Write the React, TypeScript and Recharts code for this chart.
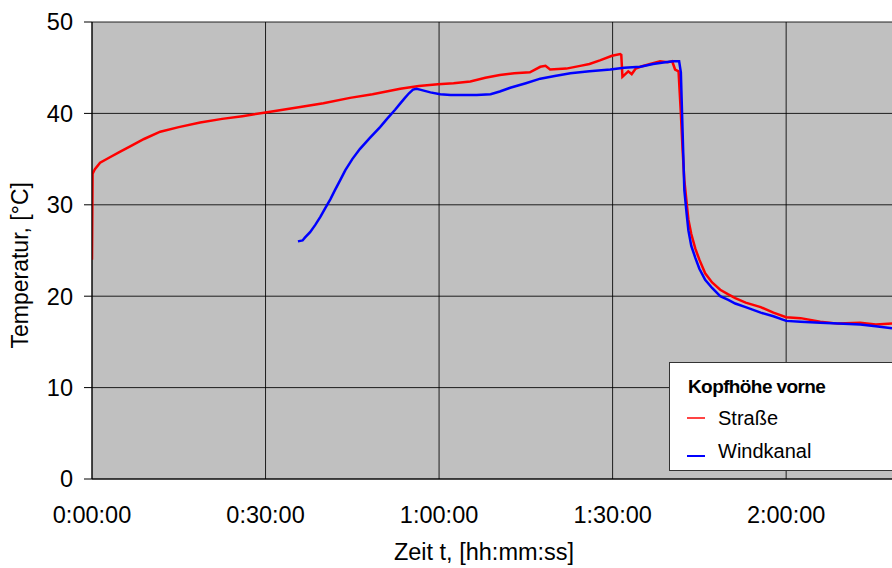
import { LineChart, Line, XAxis, YAxis, CartesianGrid } from 'recharts';

// time in minutes, temperature in °C
const strasseTime = [0, 0.1, 0.5, 1.4, 3.1, 4.8, 6.6, 9.0, 11.8, 15.0, 18.7, 22.5, 26.0, 30.0, 33.0, 36.0, 40.0, 44.6, 48.5, 53.3, 56.5, 59.8, 62.5, 65.4, 68.0, 70.5, 73.0, 75.7, 77.5, 78.4, 79.2, 82.0, 84.4, 86.0, 87.8, 89.9, 91.3, 91.5, 91.7, 92.2, 92.7, 93.3, 94.0, 94.8, 96.5, 98.2, 99.5, 100.3, 100.8, 101.4, 101.8, 102.1, 102.4, 102.8, 103.1, 103.6, 104.3, 105.0, 106.0, 107.2, 108.6, 110.0, 111.2, 113.0, 115.6, 117.8, 120.0, 122.5, 125.9, 129.0, 132.8, 135.5, 138.3];
const strasseTemp = [24.0, 33.4, 33.9, 34.6, 35.2, 35.8, 36.4, 37.2, 38.0, 38.5, 39.0, 39.4, 39.7, 40.1, 40.4, 40.7, 41.1, 41.7, 42.1, 42.7, 43.0, 43.2, 43.3, 43.5, 43.9, 44.2, 44.4, 44.5, 45.1, 45.2, 44.8, 44.9, 45.2, 45.4, 45.8, 46.3, 46.5, 46.4, 44.0, 44.3, 44.6, 44.3, 44.9, 45.1, 45.4, 45.7, 45.6, 45.7, 44.8, 44.6, 40.0, 36.0, 32.7, 30.2, 28.4, 26.8, 25.2, 24.0, 22.5, 21.5, 20.7, 20.2, 19.8, 19.3, 18.8, 18.2, 17.7, 17.6, 17.2, 17.0, 17.1, 16.9, 17.0];

const windkanalTime = [35.6, 36.4, 36.8, 37.7, 38.6, 39.5, 40.3, 41.2, 42.0, 43.0, 43.8, 45.0, 46.3, 48.0, 49.8, 51.0, 52.4, 53.3, 54.1, 54.8, 55.5, 56.1, 56.7, 58.5, 60.2, 62.0, 63.7, 66.5, 68.9, 70.5, 72.3, 75.0, 77.5, 80.0, 82.7, 86.0, 89.6, 92.0, 94.8, 97.0, 99.1, 100.5, 101.5, 101.8, 102.1, 102.4, 102.8, 103.1, 103.6, 104.3, 105.0, 106.0, 107.2, 108.6, 110.0, 111.2, 113.0, 115.6, 117.8, 120.0, 122.5, 125.9, 129.0, 132.8, 135.5, 138.3];
const windkanalTemp = [26.0, 26.1, 26.4, 27.0, 27.8, 28.7, 29.6, 30.6, 31.6, 32.8, 33.8, 35.0, 36.1, 37.3, 38.5, 39.4, 40.4, 41.1, 41.7, 42.2, 42.6, 42.7, 42.6, 42.3, 42.1, 42.0, 42.0, 42.0, 42.1, 42.4, 42.8, 43.3, 43.8, 44.1, 44.4, 44.6, 44.8, 45.0, 45.1, 45.4, 45.6, 45.7, 45.7, 44.5, 38.0, 31.6, 29.0, 27.2, 25.5, 24.2, 23.0, 21.8, 20.9, 20.0, 19.6, 19.2, 18.8, 18.2, 17.8, 17.3, 17.2, 17.1, 17.0, 16.9, 16.7, 16.5];

const xTicks = [0, 30, 60, 90, 120];
const yTicks = [0, 10, 20, 30, 40, 50];

const strasse = strasseTime.map((t, i) => ({ t, v: strasseTemp[i] }));
const windkanal = windkanalTime.map((t, i) => ({ t, v: windkanalTemp[i] }));

const fmtTime = (m: number) => {
  const h = Math.floor(m / 60);
  const mm = Math.round(m % 60);
  return `${h}:${String(mm).padStart(2, '0')}:00`;
};

const font = 'Liberation Sans, Arial, sans-serif';

function LegendBox() {
  const row = { position: 'absolute' as const, left: 17, display: 'flex', alignItems: 'center', fontSize: 20, lineHeight: '24px' };
  const swatch = { display: 'inline-block', width: 18, height: 2, marginRight: 13 };
  return (
    <div
      style={{
        position: 'absolute',
        left: 669,
        top: 362,
        width: 240,
        height: 109,
        background: '#fff',
        border: '1px solid #333',
        fontFamily: font,
        boxSizing: 'border-box',
      }}
    >
      <div style={{ position: 'absolute', left: 18, top: 12, fontWeight: 'bold', fontSize: 19, letterSpacing: -0.6, lineHeight: '24px' }}>
        Kopfhöhe vorne
      </div>
      <div style={{ ...row, top: 43 }}>
        <span style={{ ...swatch, background: '#ff4444' }} />
        Straße
      </div>
      <div style={{ ...row, top: 76 }}>
        <span style={{ ...swatch, background: '#0000ff', position: 'relative', top: 5 }} />
        Windkanal
      </div>
    </div>
  );
}

export default function App() {
  return (
    <div style={{ position: 'absolute', left: 0, top: 0, width: 892, height: 568, background: '#fff', overflow: 'hidden' }}>
      <LineChart width={892} height={568} margin={{ top: 22, right: 0, left: 0, bottom: 0 }}>
        <CartesianGrid fill="#c0c0c0" stroke="#000" strokeOpacity={0.85} horizontalValues={yTicks} verticalValues={xTicks} />
        <XAxis
          dataKey="t"
          type="number"
          domain={[0, 138.3]}
          ticks={xTicks}
          tickFormatter={fmtTime}
          allowDataOverflow
          height={89}
          stroke="#000"
          tickSize={0}
          tickMargin={27}
          tick={{ fill: '#000', fontSize: 23.5, fontFamily: font }}
          label={{ value: 'Zeit t, [hh:mm:ss]', position: 'insideBottom', offset: 8, dx: -8, fill: '#000', fontSize: 23.5, fontFamily: font }}
        />
        <YAxis
          dataKey="v"
          type="number"
          domain={[0, 50]}
          ticks={yTicks}
          width={92}
          stroke="#000"
          tickSize={8}
          tickMargin={11}
          tick={{ fill: '#000', fontSize: 23.5, fontFamily: font }}
          label={{ value: 'Temperatur, [°C]', angle: -90, position: 'insideLeft', offset: 20, dy: 98, fill: '#000', fontSize: 23, fontFamily: font }}
        />
        <Line data={strasse} dataKey="v" stroke="#ff0000" strokeWidth={2.5} dot={false} isAnimationActive={false} name="Straße" />
        <Line data={windkanal} dataKey="v" stroke="#0000ff" strokeWidth={2.5} dot={false} isAnimationActive={false} name="Windkanal" />
      </LineChart>
      <LegendBox />
    </div>
  );
}
